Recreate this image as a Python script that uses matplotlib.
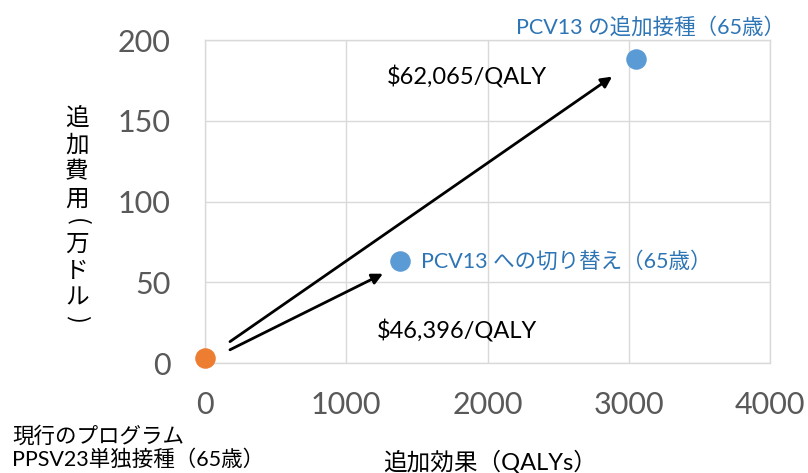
import matplotlib
matplotlib.use("Agg")
import matplotlib.pyplot as plt

# ---- data ----
strategies = ["現行のプログラム\nPPSV23単独接種（65歳）",
              "PCV13 への切り替え（65歳）",
              "PCV13 の追加接種（65歳）"]
qalys = [0, 1380, 3050]          # 追加効果 (QALYs)
costs = [3, 63, 188]             # 追加費用 (万ドル)
icer_labels = ["$46,396/QALY", "$62,065/QALY"]
x_ticks = [0, 1000, 2000, 3000, 4000]
y_ticks = [0, 50, 100, 150, 200]
x_label = "追加効果（QALYs）"
y_label = "追加費用（万ドル）"

FONT = ["Lato", "Noto Sans CJK JP", "DejaVu Sans"]
plt.rcParams["font.family"] = FONT

W, H = 808, 473
fig = plt.figure(figsize=(W/100, H/100), dpi=100)
ax = fig.add_axes([205/W, 1-363/H, 565/W, 323/H])
ax.set_xlim(0, 4000)
ax.set_ylim(0, 200)
ax.set_xticks(x_ticks)
ax.set_yticks(y_ticks)
ax.grid(True, color="#D9D9D9", linewidth=1)
ax.set_axisbelow(True)
for s in ax.spines.values():
    s.set_color("#D9D9D9")
    s.set_linewidth(1)
ax.tick_params(length=0, labelsize=22, labelcolor="#595959")
ax.tick_params(axis="y", pad=25)
ax.tick_params(axis="x", pad=20)

blue = "#5B9BD5"
orange = "#ED7D31"
text_blue = "#2E75B6"

ax.scatter(qalys[0], costs[0], s=190, color=orange, zorder=5, clip_on=False)
ax.scatter(qalys[1:], costs[1:], s=190, color=blue, zorder=5, clip_on=False)

# arrows from current program toward each alternative
arrow_spans = [(0.128, 0.913, -2.5), (0.058, 0.945, -0.5)]
for i, (t0, t1, dy) in enumerate(arrow_spans):
    x0, y0 = qalys[0], costs[0]
    x1, y1 = qalys[i+1], costs[i+1]
    sx, sy = x0 + t0*(x1-x0), y0 + t0*(y1-y0) + dy
    ex, ey = x0 + t1*(x1-x0), y0 + t1*(y1-y0) + dy
    ax.annotate("", xy=(ex, ey), xytext=(sx, sy),
                arrowprops=dict(arrowstyle="-|>", color="black", lw=2,
                                mutation_scale=16, shrinkA=0, shrinkB=0))

# ICER labels
ax.text(1220, 20, icer_labels[0], fontsize=17, color="black", va="center", ha="left")
ax.text(1290, 177, icer_labels[1], fontsize=17, color="black", va="center", ha="left")

# point labels
ax.text(qalys[1] + 150, costs[1], strategies[1], fontsize=15.5, color=text_blue,
        va="center", ha="left")
ax.text(2200, 208, strategies[2], fontsize=15.5, color=text_blue,
        va="center", ha="left", clip_on=False)
fig.text(12/W, 1-448/H, strategies[0], fontsize=15.5, color="black",
         va="center", ha="left", linespacing=1.2)

# axis labels
fig.text(490/W, 1-462/H, x_label, fontsize=17, color="black",
         ha="center", va="center")

# vertical y label, one character at a time
y_pos = 118
for c in y_label:
    if c in "（）":
        y_pos += -4 if c == "（" else -6
        fig.text(77/W, 1-y_pos/H, "(" if c == "（" else ")", fontsize=17,
                 color="black", ha="center", va="center", rotation=-90,
                 family=["Noto Sans CJK JP"])
        y_pos += 22
    else:
        fig.text(77/W, 1-y_pos/H, c, fontsize=17, color="black",
                 ha="center", va="center")
        y_pos += 27

fig.savefig("out.png", dpi=100)
